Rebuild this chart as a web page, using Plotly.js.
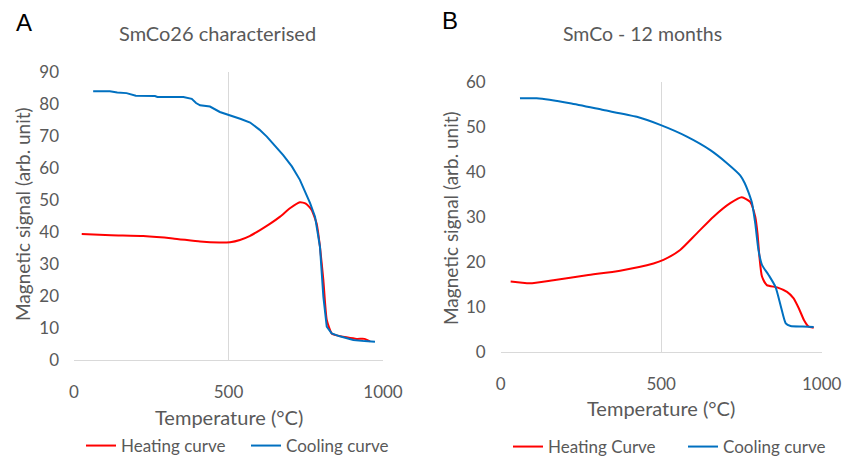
<!DOCTYPE html>
<html>
<head>
<meta charset="utf-8">
<script src="https://cdn.plot.ly/plotly-3.0.1.min.js"></script>
<style>html,body{margin:0;padding:0;background:#fff;}#chart{width:845px;height:456px;}</style>
</head>
<body>
<div id="chart"></div>
<script>
// Panel A: SmCo26 characterised
const heatA_T = [25, 120, 224, 320, 408, 470, 505, 537, 570, 602, 635, 667, 700, 731, 750, 769, 785, 796, 807, 818, 834, 850, 882, 915, 940, 958];
const heatA_M = [39.4, 39.0, 38.75, 38.0, 37.0, 36.7, 36.8, 37.5, 38.8, 40.6, 42.6, 44.8, 47.5, 49.3, 48.9, 46.9, 42.7, 35.4, 25.0, 12.5, 8.3, 7.7, 7.1, 6.6, 6.6, 5.8];
const coolA_T = [62, 116, 140, 170, 200, 262, 270, 354, 381, 395, 408, 440, 472, 505, 540, 570, 600, 624, 650, 677, 705, 731, 764, 780, 796, 807, 818, 834, 860, 904, 940, 974];
const coolA_M = [84, 84, 83.6, 83.4, 82.6, 82.5, 82.2, 82.2, 81.6, 80.3, 79.6, 79.2, 77.5, 76.5, 75.3, 74.2, 72.0, 69.8, 67.0, 64, 60.5, 56.3, 49.0, 44.8, 35.4, 19.8, 10.4, 8.3, 7.4, 6.25, 5.9, 5.7];

// Panel B: SmCo - 12 months
const heatB_T = [31, 60, 91, 164, 268, 372, 476, 507, 559, 611, 663, 715, 751, 777, 793, 800, 806, 814, 829, 861, 892, 912, 929, 945, 959, 975];
const heatB_M = [15.6, 15.4, 15.2, 15.9, 17.0, 18.0, 19.6, 20.4, 22.6, 26.3, 30.0, 33.0, 34.3, 33.3, 30.0, 26.3, 21.1, 16.7, 14.8, 14.3, 13.3, 11.9, 9.6, 7.0, 5.6, 5.3];
const coolB_T = [60, 112, 216, 320, 424, 497, 580, 653, 705, 746, 760, 772, 783, 793, 803, 814, 835, 856, 873, 888, 903, 940, 975];
const coolB_M = [56.3, 56.3, 55.2, 53.7, 52.2, 50.4, 47.8, 44.8, 41.9, 39.2, 37.5, 35.4, 33.0, 28.5, 22.6, 19.3, 17.0, 14.4, 10.0, 6.3, 5.7, 5.6, 5.5];

const xTicks = [0, 500, 1000];
const yTicksA = [0, 10, 20, 30, 40, 50, 60, 70, 80, 90];
const yTicksB = [0, 10, 20, 30, 40, 50, 60];

const RED = '#FF0000', BLUE = '#0070C0', GRID = '#D9D9D9', TXT = '#595959';
const FONT = 'Lato, "Open Sans", sans-serif';

const traces = [
  {x: heatA_T, y: heatA_M, xaxis: 'x', yaxis: 'y', mode: 'lines', name: 'Heating curve', line: {color: RED, width: 2, shape: 'spline', smoothing: 0.5}, legend: 'legend'},
  {x: coolA_T, y: coolA_M, xaxis: 'x', yaxis: 'y', mode: 'lines', name: 'Cooling curve', line: {color: BLUE, width: 2}, legend: 'legend'},
  {x: heatB_T, y: heatB_M, xaxis: 'x2', yaxis: 'y2', mode: 'lines', name: 'Heating Curve', line: {color: RED, width: 2, shape: 'spline', smoothing: 0.6}, legend: 'legend2'},
  {x: coolB_T, y: coolB_M, xaxis: 'x2', yaxis: 'y2', mode: 'lines', name: 'Cooling curve', line: {color: BLUE, width: 2, shape: 'spline', smoothing: 0.6}, legend: 'legend2'}
];

function xax(domain, anchor) {
  return {domain: domain, anchor: anchor, range: [0, 1000], tickvals: xTicks, showgrid: true, gridcolor: GRID, gridwidth: 1,
    showline: true, linecolor: GRID, linewidth: 1, zeroline: false, ticks: '', ticklabelstandoff: 17,
    tickfont: {family: FONT, size: 17, color: TXT}, fixedrange: true};
}
function yax(domain, anchor, ticks, max) {
  return {domain: domain, anchor: anchor, range: [0, max], tickvals: ticks, showgrid: false, zeroline: false, showline: false,
    ticks: '', ticklabelstandoff: 14, tickfont: {family: FONT, size: 17, color: TXT}, fixedrange: true};
}

const layout = {
  width: 845, height: 456,
  margin: {l: 0, r: 0, t: 0, b: 0, autoexpand: false},
  paper_bgcolor: '#fff', plot_bgcolor: '#fff',
  font: {family: FONT, color: TXT},
  xaxis: xax([74/845, 383/845], 'y'),
  yaxis: yax([96/456, 384/456], 'x', yTicksA, 90),
  xaxis2: xax([500.7/845, 821.7/845], 'y2'),
  yaxis2: yax([104.3/456, 374.3/456], 'x2', yTicksB, 60),
  legend: {orientation: 'h', x: 81/845, y: 10/456, xanchor: 'left', yanchor: 'middle', entrywidth: 120, entrywidthmode: 'pixels', font: {family: FONT, size: 17, color: TXT}, bgcolor: 'rgba(0,0,0,0)', itemclick: false},
  legend2: {orientation: 'h', x: 508/845, y: 9/456, xanchor: 'left', yanchor: 'middle', entrywidth: 130, entrywidthmode: 'pixels', font: {family: FONT, size: 17, color: TXT}, bgcolor: 'rgba(0,0,0,0)', itemclick: false},
  annotations: [
    {text: 'A', xref: 'paper', yref: 'paper', x: 24/845, y: 1 - 22/456, showarrow: false, xanchor: 'center', yanchor: 'middle', font: {family: '"Liberation Sans", Arial, sans-serif', size: 24, color: '#000'}},
    {text: 'B', xref: 'paper', yref: 'paper', x: 450/845, y: 1 - 20/456, showarrow: false, xanchor: 'center', yanchor: 'middle', font: {family: '"Liberation Sans", Arial, sans-serif', size: 24, color: '#000'}},
    {text: 'SmCo26 characterised', xref: 'paper', yref: 'paper', x: 217/845, y: 1 - 33/456, showarrow: false, xanchor: 'center', yanchor: 'middle', font: {family: FONT, size: 20, color: TXT}},
    {text: 'SmCo - 12 months', xref: 'paper', yref: 'paper', x: 642/845, y: 1 - 33/456, showarrow: false, xanchor: 'center', yanchor: 'middle', font: {family: FONT, size: 19.5, color: TXT}},
    {text: 'Temperature (°C)', xref: 'paper', yref: 'paper', x: 228.5/845, y: 1 - 417/456, showarrow: false, xanchor: 'center', yanchor: 'middle', font: {family: FONT, size: 20, color: TXT}},
    {text: 'Temperature (°C)', xref: 'paper', yref: 'paper', x: 661/845, y: 1 - 408/456, showarrow: false, xanchor: 'center', yanchor: 'middle', font: {family: FONT, size: 20, color: TXT}},
    {text: 'Magnetic signal (arb. unit)', xref: 'paper', yref: 'paper', x: 22/845, y: 1 - 214/456, showarrow: false, textangle: -90, xanchor: 'center', yanchor: 'middle', font: {family: FONT, size: 19, color: TXT}},
    {text: 'Magnetic signal (arb. unit)', xref: 'paper', yref: 'paper', x: 450/845, y: 1 - 218/456, showarrow: false, textangle: -90, xanchor: 'center', yanchor: 'middle', font: {family: FONT, size: 19, color: TXT}}
  ]
};

Plotly.newPlot('chart', traces, layout, {displayModeBar: false, staticPlot: true});
</script>
</body>
</html>
